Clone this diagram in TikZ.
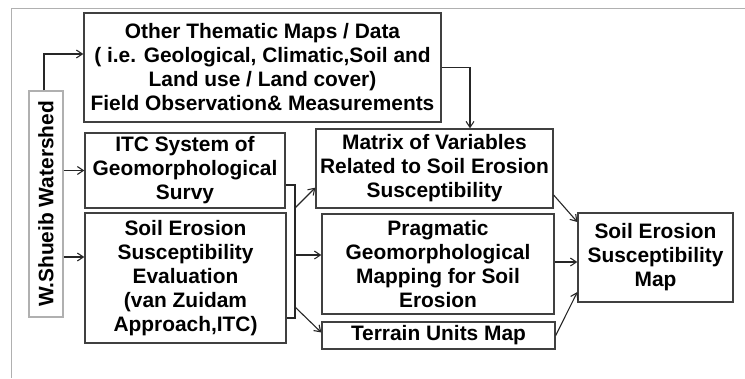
\documentclass[tikz,border=0pt]{standalone}
\usepackage{fontspec}
\setmainfont{Liberation Sans}
\usetikzlibrary{arrows.meta,calc}
\definecolor{boxline}{HTML}{404040}
\definecolor{frameline}{HTML}{B0B0B0}
\begin{document}
\begin{tikzpicture}[x=1pt,y=-1pt,
  box/.style={draw=boxline,line width=1.3pt,rectangle,inner sep=0pt,align=center,
    font=\fontsize{20.9}{24}\selectfont\bfseries},
  arr/.style={draw=black!85,line width=1.1pt,-{Straight Barb[length=6pt,width=8pt,line width=1.1pt]}},
  plain/.style={draw=black!85,line width=1.1pt}]
\useasboundingbox (0,0) rectangle (745,378);
\draw[frameline,line width=1pt] (11,378) -- (11,8) -- (745,8);
\node[box,minimum width=357pt,minimum height=109pt] (other) at (262.5,67.5)
  {Other Thematic Maps / Data\\( i.e. Geological, Climatic,Soil and\\Land use / Land cover)\\Field Observation\& Measurements};
\node[box,minimum width=200pt,minimum height=75pt] (itc) at (185,170.5)
  {ITC System of\\Geomorphological\\Survy};
\node[box,minimum width=201pt,minimum height=130pt] (sese) at (185.5,278)
  {Soil Erosion\\Susceptibility\\Evaluation\\(van Zuidam\\Approach,ITC)};
\node[box,draw=frameline,minimum width=34pt,minimum height=226pt] (water) at (46,204)
  {\rotatebox{90}{W.Shueib Watershed}};
\node[box,minimum width=237pt,minimum height=79pt] (matrix) at (434.5,168.5)
  {Matrix of Variables\\Related to Soil Erosion\\Susceptibility};
\node[box,minimum width=232pt,minimum height=100pt] (prag) at (438,264)
  {Pragmatic\\Geomorphological\\Mapping for Soil\\Erosion};
\node[box,minimum width=233pt,minimum height=27pt] (terrain) at (438.5,335.5)
  {Terrain Units Map};
\node[box,minimum width=155pt,minimum height=89pt] (final) at (655.5,257.5)
  {Soil Erosion\\Susceptibility\\Map};
% bracket
\coordinate (bt) at (295,185);
\coordinate (bb) at (295,318);
\draw[plain] (itc.east |- bt) -- (bt) -- (bb) -- (sese.east |- bb);
% arrows
\draw[arr] ([xshift=-2pt]water.north) |- ($(other.west)+(0,-13.5)$);
\draw[arr] (water.east |- itc.west) -- (itc.west);
\coordinate (ws) at ($(sese.west)+(0,-21)$);
\draw[arr] (water.east |- ws) -- (ws);
\draw[arr] (other.east) -| ([xshift=35.5pt]matrix.north);
\draw[arr] ($(bt)+(0,23)$) -- ($(matrix.south west)+(0,-21)$);
\draw[arr] ($(bt)+(0,70)$) -- (prag.west |- {$(bt)+(0,70)$});
\draw[arr] ($(bt)+(0,122)$) -- ($(terrain.west)+(0,-3)$);
\draw[arr] ($(matrix.east)+(0,26.5)$) -- ($(final.west)+(0,-35.5)$);
\draw[arr] ($(prag.east)+(0,-2)$) -- ($(final.west |- prag.east)+(0,-2)$);
\draw[arr] (terrain.east) -- ($(final.west)+(0,34.5)$);
\end{tikzpicture}
\end{document}
